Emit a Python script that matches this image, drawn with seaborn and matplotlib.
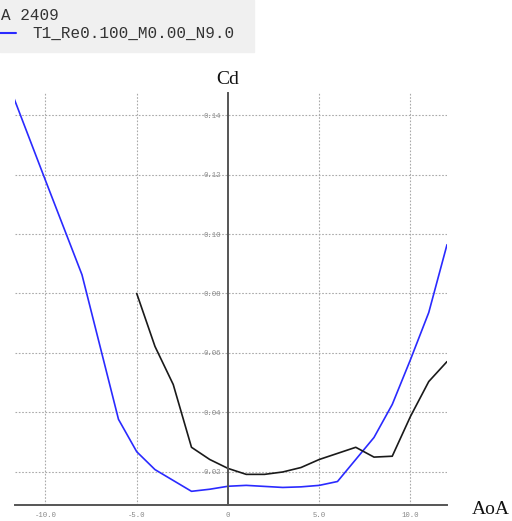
import numpy as np
import pandas as pd
import matplotlib
matplotlib.use("Agg")
import matplotlib.pyplot as plt
import seaborn as sns

# NACA 2409 polar, Cd vs AoA
aoa_blue = [-12, -10, -8, -6, -5, -4, -2, -1, 0, 1, 3, 4, 5, 6, 8, 9, 10, 11, 12]
cd_blue = [0.150, 0.118, 0.0863, 0.0377, 0.0268, 0.0208, 0.0135, 0.0142, 0.0152,
           0.0155, 0.0148, 0.0150, 0.0155, 0.0168, 0.0316, 0.0427, 0.0578, 0.0736, 0.0964]

aoa_black = [-5, -4, -3, -2, -1, 0, 1, 2, 3, 4, 5, 7, 8, 9, 10, 11, 12]
cd_black = [0.080, 0.0622, 0.0494, 0.0283, 0.0242, 0.0212, 0.0192, 0.0192, 0.0200,
            0.0215, 0.0242, 0.0283, 0.0250, 0.0253, 0.0387, 0.0504, 0.0571]

x_ticks = [-10, -5, 0, 5, 10]
x_labels = ["-10.0", "-5.0", "0", "5.0", "10.0"]
y_ticks = [0.02, 0.04, 0.06, 0.08, 0.10, 0.12, 0.14]
y_labels = ["0.02", "0.04", "0.06", "0.08", "0.10", "0.12", "0.14"]

df = pd.concat([
    pd.DataFrame({"AoA": aoa_blue, "Cd": cd_blue, "run": "T1_Re0.100_M0.00_N9.0"}),
    pd.DataFrame({"AoA": aoa_black, "Cd": cd_black, "run": "ref"}),
])

sns.set_style("white")
plt.rcParams['font.family'] = ['Liberation Mono', 'DejaVu Sans']

fig = plt.figure(figsize=(5.12, 5.21), dpi=100)
ax = fig.add_axes([15 / 512, 16 / 521, 432 / 512, 412 / 521])

sns.lineplot(data=df, x="AoA", y="Cd", hue="run", sort=False,
             palette={"T1_Re0.100_M0.00_N9.0": "#2a2aff", "ref": "#1a1a1a"},
             linewidth=1.2, legend=False, ax=ax)

ax.set_xlim(-11.67, 12.0)
ax.set_ylim(0.0089, 0.1474)

ax.set_xticks(x_ticks)
ax.set_xticklabels(x_labels)
ax.set_yticks(y_ticks)
ax.set_yticklabels(y_labels)
ax.tick_params(axis="both", labelsize=5.2, colors="#888888", length=3, width=0.8, pad=2)
ax.tick_params(axis="both", color="#555555")

# grid, dotted
for xt in x_ticks:
    if xt != 0:
        ax.axvline(xt, color="#aaaaaa", linestyle=(0, (1.5, 1.5)), linewidth=0.8, zorder=0)
for yt in y_ticks:
    ax.axhline(yt, color="#aaaaaa", linestyle=(0, (1.5, 1.5)), linewidth=0.8, zorder=0)

ax.spines["left"].set_position(("data", 0))
ax.spines["top"].set_visible(False)
ax.spines["right"].set_visible(False)
for s in ["left", "bottom"]:
    ax.spines[s].set_color("#555555")
    ax.spines[s].set_linewidth(1.4)
ax.set_xlabel("")
ax.set_ylabel("")

fig.text(228 / 512, 1 - 79 / 521, "Cd", family="Liberation Serif", fontsize=14,
         ha="center", va="center", color="#111111")
fig.text(491 / 512, 1 - 510 / 521, "AoA", family="Liberation Serif", fontsize=14,
         ha="center", va="center", color="#111111")

# legend panel
fig.patches.append(plt.Rectangle((0, 1 - 52 / 521), 254 / 512, 52 / 521,
                                 transform=fig.transFigure, color="#f0f0f0", zorder=0))
fig.text(1 / 512, 1 - 15 / 521, "A 2409", fontsize=11.5, color="#333333",
         ha="left", va="center")
fig.text(32 / 512, 1 - 33 / 521, "T1_Re0.100_M0.00_N9.0", fontsize=11.5, color="#333333",
         ha="left", va="center")
fig.lines.append(plt.Line2D([0, 16 / 512], [1 - 33 / 521, 1 - 33 / 521],
                            transform=fig.transFigure, color="#2a2aff", linewidth=1.5))

fig.savefig("out.png", dpi=100)
